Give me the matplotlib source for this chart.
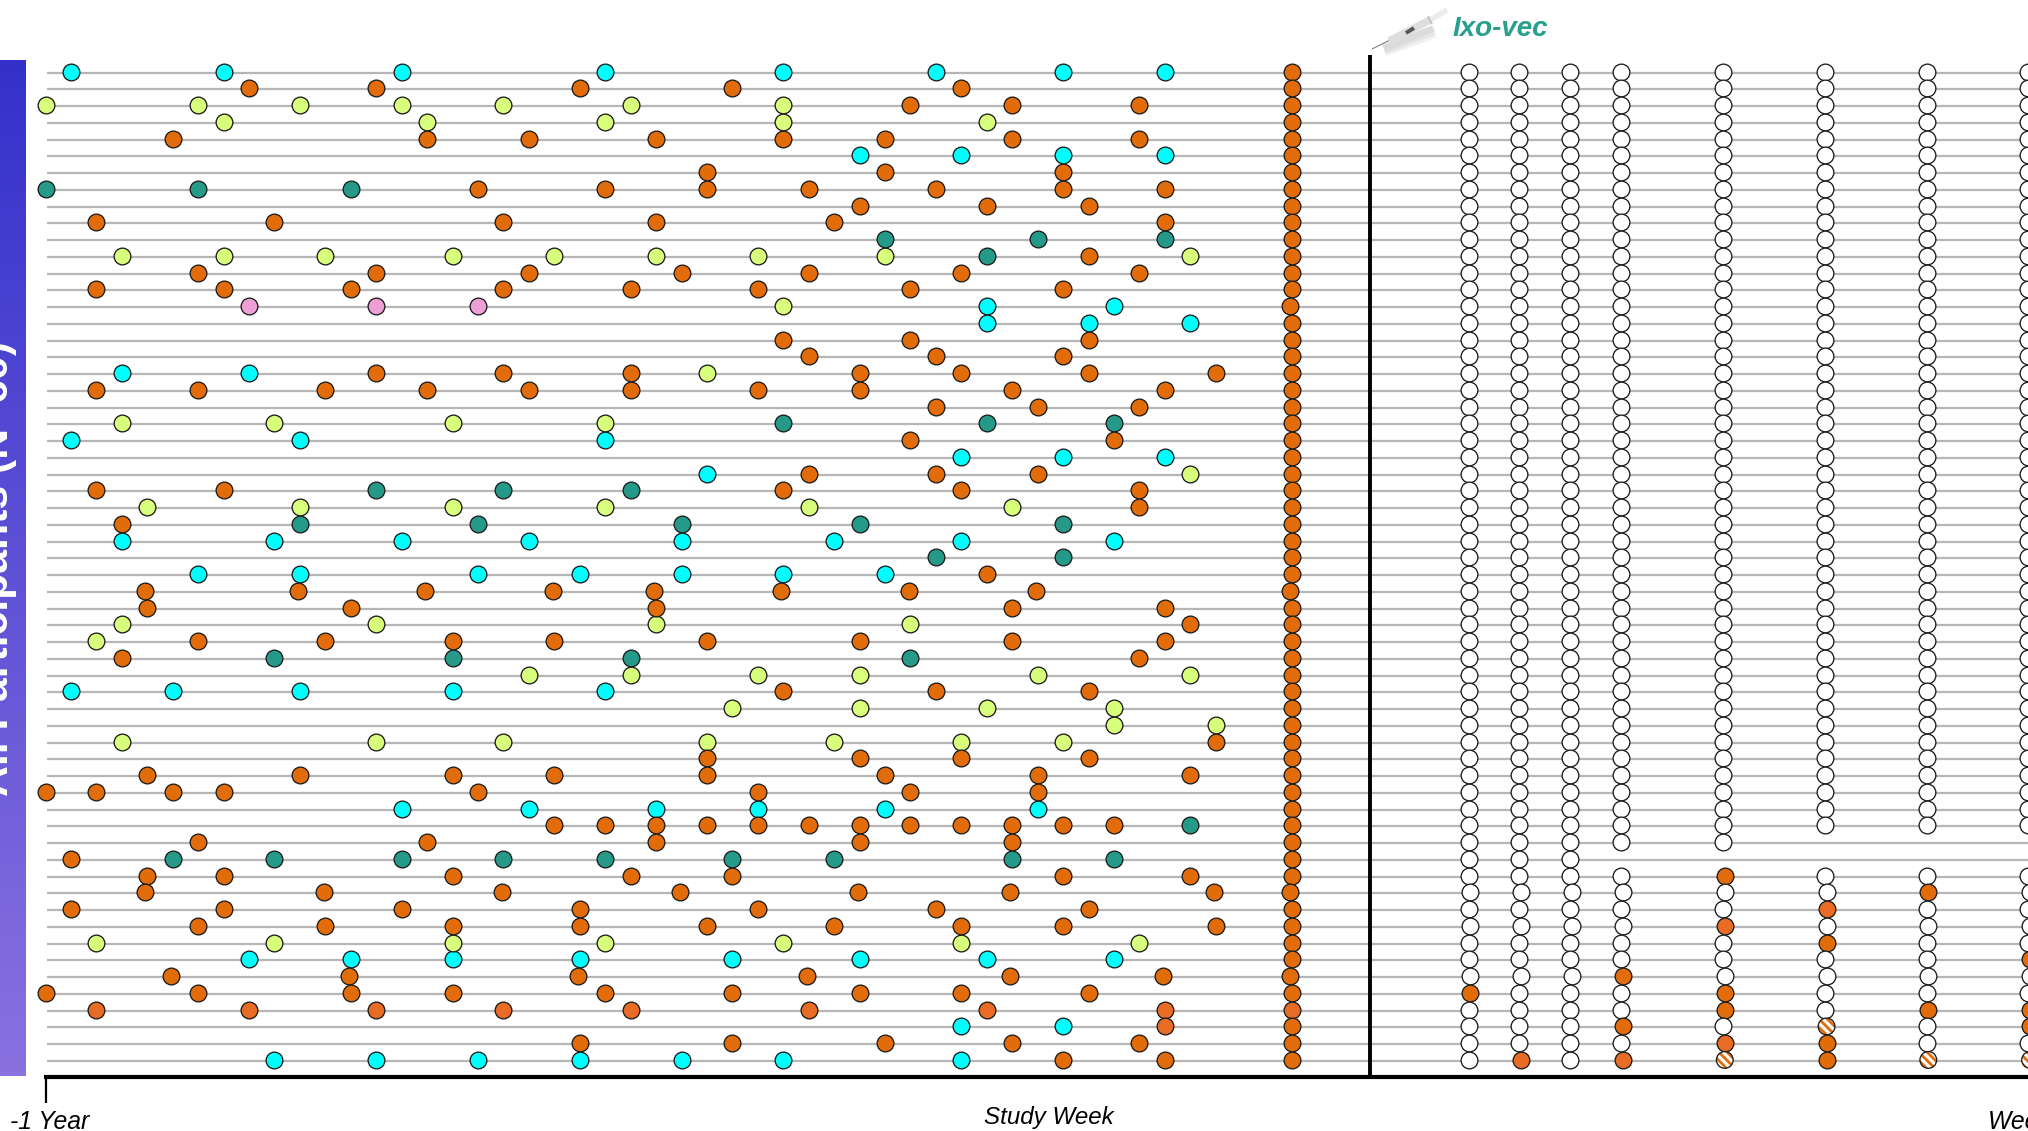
import numpy as np
import matplotlib
matplotlib.use("Agg")
import matplotlib.pyplot as plt
from matplotlib.lines import Line2D
from matplotlib.colors import LinearSegmentedColormap

# visit weeks before dosing, counted from -1 year (0) : {row: [weeks]}
cyan_visits = {
    1: [1, 7, 14, 22, 29, 35, 40, 44], 6: [32, 36, 40, 44], 15: [37, 42], 16: [37, 41, 45],
    19: [3, 8], 23: [1, 10, 22], 24: [36, 40, 44], 25: [26],
    29: [3, 9, 14, 19, 25, 31, 36, 42], 31: [6, 10, 17, 21, 25, 29, 33], 38: [1, 5, 10, 16, 22],
    45: [14, 19, 24, 28, 33, 39], 54: [8, 12, 16, 21, 27, 32, 37, 42], 58: [36, 40],
    60: [9, 13, 17, 21, 25, 29, 36],
}
lime_visits = {
    3: [0, 6, 10, 14, 18, 23, 29], 4: [7, 15, 22, 29, 37], 12: [3, 7, 11, 16, 20, 24, 28, 33, 45],
    15: [29], 19: [26], 22: [3, 9, 16, 22], 25: [45], 27: [4, 10, 16, 22, 30, 38],
    34: [3, 13, 24, 34], 35: [2], 37: [19, 23, 28, 32, 39, 45], 39: [27, 32, 37, 42],
    40: [42, 46], 41: [3, 13, 18, 26, 31, 36, 40], 53: [2, 9, 16, 22, 29, 36, 43],
}
teal_visits = {
    8: [0, 6, 12], 11: [33, 39, 44], 12: [37], 22: [29, 37, 42], 26: [13, 18, 23],
    28: [10, 17, 25, 32, 40], 30: [35, 40], 36: [9, 16, 23, 34], 46: [45],
    48: [5, 9, 14, 18, 22, 27, 31, 38, 42],
}
pink_visits = {15: [8, 13, 17]}
orange_visits = {
    2: [8, 13, 21, 27, 36], 3: [34, 38, 43], 5: [5, 15, 19, 24, 29, 33, 38, 43], 7: [26, 33, 40],
    8: [17, 22, 26, 30, 35, 40, 44], 9: [32, 37, 41], 10: [2, 9, 18, 24, 31, 44], 12: [41],
    13: [6, 13, 19, 25, 30, 36, 43], 14: [2, 7, 12, 18, 23, 28, 34, 40], 17: [29, 34, 41],
    18: [30, 35, 40], 19: [13, 18, 23, 32, 36, 41, 46], 20: [2, 6, 11, 15, 19, 23, 28, 32, 38, 44],
    21: [35, 39, 43], 23: [34, 42], 25: [30, 35, 39], 26: [2, 7, 29, 36, 43], 27: [43], 28: [3],
    31: [37], 32: [4, 10, 15, 20, 24, 29, 34, 39], 33: [4, 12, 24, 38, 44], 34: [45],
    35: [6, 11, 16, 20, 26, 32, 38, 44], 36: [3, 43], 38: [29, 35, 41], 41: [46],
    42: [26, 32, 36, 41], 43: [4, 10, 16, 20, 26, 33, 39, 45], 44: [0, 2, 5, 7, 17, 28, 34, 39],
    46: [20, 22, 24, 26, 28, 30, 32, 34, 36, 38, 40, 42], 47: [6, 15, 24, 32, 38], 48: [1],
    49: [4, 7, 16, 23, 27, 40, 45], 50: [4, 11, 18, 25, 32, 38, 46], 51: [1, 7, 14, 21, 28, 35, 41],
    52: [6, 11, 16, 21, 26, 31, 36, 40, 46], 55: [5, 12, 21, 30, 38, 44],
    56: [0, 6, 12, 16, 22, 27, 32, 36, 41], 59: [21, 27, 33, 38, 43], 60: [40, 44],
}
light_orange_visits = {57: [2, 8, 13, 18, 23, 30, 37, 44], 58: [44]}
shifted_rows = [32, 50, 55]

n_rows = 60
screen_week = 49
screen_shifted = [15, 32, 50, 55]
dose_week = 52

# after dosing: scheduled weeks and the visits that were not white
post_weeks = [4, 6, 8, 10, 14, 18, 22, 26]
post_missing = {47: [18, 22, 26], 48: [10, 14, 18, 22, 26]}
post_orange = {49: [14], 50: [22], 53: [18], 54: [26], 55: [10], 56: [4, 14], 57: [14, 22, 26],
               58: [10, 26], 59: [18], 60: [18]}
post_light = {51: [18], 52: [14], 59: [14], 60: [6, 10]}
post_hatched = {58: [18], 60: [14, 22, 26]}
post_shifted_rows = [50, 52, 55]

ORANGE = "#E36C0A"
LIGHT_ORANGE = "#E86B26"
EDGE = "#1c1c1c"
DOT = 145

plt.rcParams["font.family"] = ["Liberation Sans", "DejaVu Sans"]
plt.rcParams["hatch.linewidth"] = 2.0

W, H = 2028, 1131
fig = plt.figure(figsize=(W / 100, H / 100), dpi=100)
ax = fig.add_axes([0, 0, 1, 1])
ax.set_xlim(-45.5 / 25.44, (W - 45.5) / 25.44)
ax.set_ylim(1 + (H - 72.7) / 16.75, 1 - 72.7 / 16.75)
ax.axis("off")


def px(x, y):
    return x / W, 1 - y / H


def dots(xs, ys, color, **kw):
    ax.scatter(xs, np.array(ys) - 0.06, s=DOT, c=color, edgecolors=EDGE, linewidths=0.95, zorder=3, **kw)


def draw_visits(visits, color):
    xs, ys = [], []
    for row, weeks in visits.items():
        shift = -0.07 if row in shifted_rows else 0
        for w in weeks:
            xs.append(w + shift)
            ys.append(row)
    dots(xs, ys, color)


# participant rows
ax.hlines(range(1, n_rows + 1), 0.06, 90, color="#B6B6B6", linewidth=1.6, zorder=1)

draw_visits(cyan_visits, "#00FFFF")
draw_visits(lime_visits, "#D8FF7C")
draw_visits(teal_visits, "#269A88")
draw_visits(pink_visits, "#EE9FD6")
draw_visits(orange_visits, ORANGE)
draw_visits(light_orange_visits, LIGHT_ORANGE)

# screening column
for row in range(1, n_rows + 1):
    x = screen_week - (0.07 if row in screen_shifted else 0)
    dots([x], [row], LIGHT_ORANGE if row == 57 else ORANGE)

# post dose columns
for row in range(1, n_rows + 1):
    for wk in post_weeks:
        if wk in post_missing.get(row, []):
            continue
        x = dose_week + wk - 0.06
        if wk in post_orange.get(row, []):
            dots([x + 0.07], [row], ORANGE)
        elif wk in post_light.get(row, []):
            dots([x + 0.07], [row], LIGHT_ORANGE)
        elif wk in post_hatched.get(row, []):
            y = row - 0.06
            ax.scatter([x + 0.07], [y], s=DOT, facecolor="white", edgecolors=ORANGE,
                       hatch="\\\\\\\\", linewidths=0, zorder=3)
            ax.scatter([x + 0.07], [y], s=DOT, facecolor="none", edgecolors=EDGE, linewidths=0.95, zorder=4)
        else:
            shift = 0.07 if row in post_shifted_rows else 0
            dots([x + shift], [row], "white")

# dosing line and time axis
ax.plot([dose_week + 0.06] * 2, [-0.03, 60.96], color="black", linewidth=2.8, zorder=4, solid_capstyle="butt")
ax.plot([-0.06, 90], [60.96, 60.96], color="black", linewidth=3.0, zorder=4, solid_capstyle="butt")
ax.plot([0, 0], [60.96, 62.5], color="black", linewidth=1.6, zorder=4, solid_capstyle="butt")

# gradient band on the left
band = fig.add_axes([0, 1 - 1076 / H, 26 / W, (1076 - 60) / H])
cmap = LinearSegmentedColormap.from_list("band", ["#3431CB", "#8971E0"])
band.imshow(np.linspace(0, 1, 256).reshape(-1, 1), aspect="auto", cmap=cmap)
band.axis("off")
fig.text(*px(8, 568), "All Participants (N=60)", color="white", fontsize=30.8, fontweight="bold",
         rotation=90, rotation_mode="anchor", ha="center", va="baseline", zorder=5)

# axis texts
fig.text(*px(10, 1129), "-1 Year", fontsize=17.8, style="italic", ha="left", va="baseline")
fig.text(*px(1049, 1124), "Study Week", fontsize=17.4, style="italic", ha="center", va="baseline")
fig.text(*px(1988, 1129), "Week 26", fontsize=17.8, style="italic", ha="left", va="baseline")
fig.text(*px(1453, 36), "Ixo-vec", fontsize=20, style="italic", fontweight="bold", color="#29A08E",
         ha="left", va="baseline")


# syringe icon
def stroke(x0, y0, x1, y1, color, lw, alpha=1.0):
    a, b = px(x0, y0), px(x1, y1)
    fig.add_artist(Line2D([a[0], b[0]], [a[1], b[1]], color=color, linewidth=lw, alpha=alpha,
                          solid_capstyle="butt", transform=fig.transFigure))


for off, wid in [(8, 9), (6, 7), (4, 5)]:
    stroke(1384, 47 + off * 0.4, 1434, 24 + off, "#9a9a9a", wid, 0.13)
stroke(1372, 49, 1390, 40, "#8c8c8c", 0.9)
stroke(1389, 41, 1430, 20, "#dedede", 5.5)
stroke(1406, 33, 1414, 28, "#555555", 2.8)
stroke(1430, 20, 1447, 10, "#ececec", 4.0)
stroke(1428, 16, 1432, 24, "#bdbdbd", 1.2)

fig.savefig("out.png", dpi=100)
